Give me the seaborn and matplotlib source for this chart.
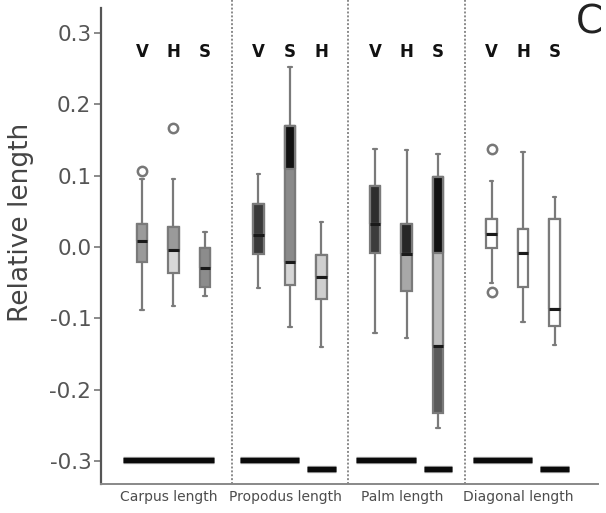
import matplotlib
matplotlib.use("Agg")
import matplotlib.pyplot as plt
import matplotlib.patheffects as pe
import seaborn as sns
import pandas as pd
import numpy as np

# ---------------- data ----------------
groups = ["Carpus length", "Propodus length", "Palm length", "Diagonal length"]
species_order = [["V", "H", "S"], ["V", "S", "H"], ["V", "H", "S"], ["V", "H", "S"]]

# box statistics in plotting order (group by group, member by member)
whis_low = [-0.088, -0.083, -0.069, -0.057, -0.112, -0.140, -0.120, -0.127, -0.253, -0.051, -0.105, -0.137]
quart_1  = [-0.021, -0.036, -0.056, -0.010, -0.053, -0.073, -0.009, -0.061, -0.232, -0.001, -0.056, -0.111]
medians  = [ 0.008, -0.004, -0.030,  0.017, -0.021, -0.042,  0.032, -0.010, -0.138,  0.018, -0.009, -0.087]
quart_3  = [ 0.032,  0.028, -0.001,  0.060,  0.169, -0.011,  0.085,  0.032,  0.098,  0.040,  0.025,  0.040]
whis_high = [0.095,  0.095,  0.021,  0.102,  0.253,  0.035,  0.137,  0.136,  0.131,  0.092,  0.133,  0.070]
# value where a black band at the top of the box ends (None = no band)
dark_band_end = [None, None, None, None, 0.109, None, None, None, -0.009, None, None, None]

# outliers: index of box, value
outlier_box = [0, 1, 9, 9]
outlier_val = [0.107, 0.167, 0.137, -0.063]

# homogeneous-subset bars: group, first member, last member, level
bar_group = [0, 1, 1, 2, 2, 3, 3]
bar_first = [0, 0, 2, 0, 2, 0, 2]
bar_last  = [2, 1, 2, 1, 2, 1, 2]
bar_level = [-0.298, -0.299, -0.311, -0.299, -0.311, -0.299, -0.311]

yticks = [-0.3, -0.2, -0.1, 0.0, 0.1, 0.2, 0.3]
ytick_labels = ["-0.3", "-0.2", "-0.1", "0.0", "0.1", "0.2", "0.3"]

# ---------------- styles ----------------
upper_colors = ["#9a9a9a", "#9a9a9a", "#8c8c8c", "#3a3a3a", "#8a8a8a", "#cfcfcf",
                "#2e2e2e", "#262626", "#bdbdbd", "#ffffff", "#ffffff", "#ffffff"]
lower_colors = ["#9a9a9a", "#d8d8d8", "#8c8c8c", "#3a3a3a", "#d6d6d6", "#cfcfcf",
                "#3c3c3c", "#a8a8a8", "#5a5a5a", "#ffffff", "#ffffff", "#ffffff"]
GROUP_STEP = 3.7
BOX_W = 0.34
LINE_C = "#7a7a7a"

def pos(g, m):
    return g * GROUP_STEP + m

positions, labels_sp, box_ids = [], [], []
for g, members in enumerate(species_order):
    for m, sp in enumerate(members):
        positions.append(pos(g, m))
        labels_sp.append(sp)
        box_ids.append(len(box_ids))

rows = []
for i, p in enumerate(positions):
    for v in (whis_low[i], quart_1[i], medians[i], quart_3[i], whis_high[i]):
        rows.append({"pos": p, "value": v, "box": str(i)})
df = pd.DataFrame(rows)

sns.set_theme(style="white")
plt.rcParams["font.family"] = ["DejaVu Sans"]

fig = plt.figure(figsize=(6.06, 5.13), dpi=100)
ax = fig.add_axes([101 / 606, 1 - 484 / 513, 497 / 606, 476 / 513])

sns.boxplot(data=df, x="pos", y="value", hue="box", native_scale=True,
            palette=lower_colors, hue_order=[str(i) for i in box_ids],
            dodge=False, width=BOX_W, whis=(0, 100), linecolor=LINE_C,
            linewidth=1.6, legend=False, ax=ax, capwidths=0.12,
            medianprops=dict(color="#1a1a1a", linewidth=2.2))

# upper-half fills (q3 to median) and optional dark band
hw = BOX_W / 2
for i, p in enumerate(positions):
    ax.fill_between([p - hw, p + hw], medians[i], quart_3[i], color=upper_colors[i],
                    edgecolor=LINE_C, linewidth=1.6, zorder=2.1)
    if dark_band_end[i] is not None:
        ax.fill_between([p - hw, p + hw], dark_band_end[i], quart_3[i], color="#111111",
                        edgecolor=LINE_C, linewidth=1.6, zorder=2.2)
for ln in ax.lines:
    ln.set_zorder(3)

# outliers
odf = pd.DataFrame({"pos": [positions[b] for b in outlier_box], "value": outlier_val})
sns.scatterplot(data=odf, x="pos", y="value", marker="o", s=45, facecolor="white",
                edgecolor="#777777", linewidth=1.8, ax=ax, zorder=4)

# species letters
for p, sp in zip(positions, labels_sp):
    ax.text(p, 0.274, sp, ha="center", va="center", fontsize=12, fontweight="bold", color="#111111")

# group separators
for g in range(1, len(groups)):
    ax.axvline(g * GROUP_STEP - 0.85, ymin=0, ymax=1.02, clip_on=False, color="#8a8a8a",
               linestyle=(0, (1, 1)), linewidth=1.4, zorder=1)

# homogeneous subset bars
for g, a, b, lev in zip(bar_group, bar_first, bar_last, bar_level):
    if a == b:
        x0, x1 = pos(g, a) - 0.45, pos(g, b) + 0.45
    else:
        x0, x1 = pos(g, a) - 0.6, pos(g, b) + 0.3
    ax.plot([x0, x1], [lev, lev], color="#0a0a0a", linewidth=3.6, solid_capstyle="butt",
            path_effects=[pe.Stroke(linewidth=5.2, foreground="#888888"), pe.Normal()], zorder=3)

ax.set_xlim(-1.30, 14.48)
ax.set_ylim(-0.332, 0.335)
ax.set_xticks([pos(g, 1) - 0.15 for g in range(len(groups))])
ax.set_xticklabels(groups, fontsize=10, color="#4d4d4d")
ax.set_yticks(yticks)
ax.set_yticklabels(ytick_labels, fontsize=15.5, color="#555555")
ax.tick_params(axis="y", length=5, width=1.2, color="#777777", pad=2, left=True)
ax.tick_params(axis="x", length=0, pad=4)
ax.set_xlabel("")
ax.set_ylabel("Relative length", fontsize=19, color="#444444")
ax.yaxis.set_label_coords(-0.135, 0.55)

for s in ("top", "right"):
    ax.spines[s].set_visible(False)
ax.spines["left"].set_color("#555555")
ax.spines["left"].set_linewidth(1.6)
ax.spines["bottom"].set_color("#888888")
ax.spines["bottom"].set_linewidth(1.4)

fig.text(589 / 606, 1 - 23 / 513, "C", fontsize=28, ha="center", va="center", color="#222222")

fig.savefig("out.png", dpi=100)
